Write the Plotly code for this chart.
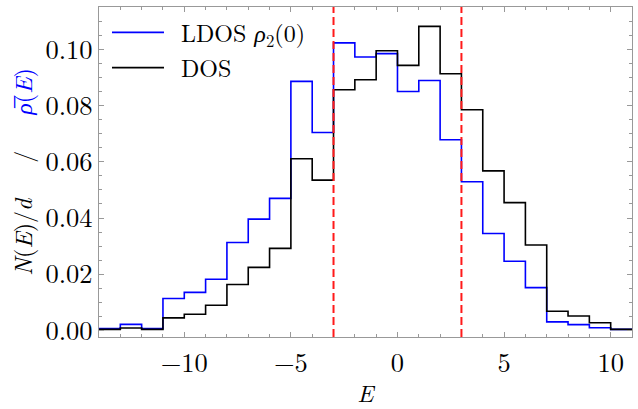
import plotly.graph_objects as go

# Bin edges (unit-width bins from -14 to 11)
bin_edges = list(range(-14, 12))

# LDOS rho_2(0) histogram values (per bin)
ldos_vals = [0.0006, 0.0021, 0.0006, 0.0113, 0.0135, 0.0182, 0.0313, 0.0396, 0.0470,
             0.0887, 0.0705, 0.1024, 0.0974, 0.0986, 0.0851, 0.0890, 0.0679, 0.0529,
             0.0345, 0.0246, 0.0152, 0.0030, 0.0020, 0.0009, 0.0003]

# DOS histogram values (per bin)
dos_vals = [0.0003, 0.0008, 0.0003, 0.0044, 0.0057, 0.0089, 0.0163, 0.0224, 0.0292,
            0.0611, 0.0535, 0.0857, 0.0893, 0.0996, 0.0944, 0.1083, 0.0914, 0.0786,
            0.0568, 0.0455, 0.0304, 0.0068, 0.0051, 0.0027, 0.0003]

# Vertical reference lines
ref_lines = [-3, 3]

x_ticks = [-10, -5, 0, 5, 10]
y_ticks = [0.0, 0.02, 0.04, 0.06, 0.08, 0.10]

FONT = "Latin Modern Roman"
NB = "\u00a0"

fig = go.Figure()

def step_trace(vals, color, name):
    xs = bin_edges
    ys = list(vals) + [vals[-1]]
    return go.Scatter(x=xs, y=ys, mode="lines", line=dict(color=color, width=1.6, shape="hv"),
                      name=name, legendgroup=name)

fig.add_trace(step_trace(ldos_vals, "#0000ff", NB + "LDOS <i>ρ</i><sub>2</sub>(0)"))
fig.add_trace(step_trace(dos_vals, "#000000", NB + "DOS"))

for xv in ref_lines:
    fig.add_vline(x=xv, line=dict(color="#ff1a1a", width=2, dash="8px,4px"))

axis_common = dict(
    showline=True, linecolor="#999999", linewidth=1.2, mirror="allticks",
    ticks="inside", tickcolor="#999999", ticklen=5, tickwidth=1,
    showgrid=False, zeroline=False, automargin=False,
    tickfont=dict(family=FONT, size=26.5, color="black"),
)

fig.update_xaxes(
    range=[-14, 11], tickvals=x_ticks, ticklabelstandoff=2,
    minor=dict(ticks="inside", dtick=1, ticklen=3, tickcolor="#999999", showgrid=False),
    title=dict(text="<i>E</i>", font=dict(family=FONT, size=24, color="black"), standoff=31),
    **axis_common,
)
ytitle = ("<i>N</i>(<i>E</i>)/<i>d</i>" + NB * 3 + "/" + NB * 3 +
          "<span style='color:#0000ff'><i>ρ\u0305</i>(<i>E</i>)</span>")
fig.update_yaxes(
    range=[-0.0024, 0.1152], tickvals=y_ticks, tickformat=".2f",
    minor=dict(ticks="inside", dtick=0.005, tick0=0, ticklen=3, tickcolor="#999999", showgrid=False),
    title=dict(text=ytitle, font=dict(family=FONT, size=24, color="black"), standoff=6),
    **axis_common,
)

fig.update_layout(
    width=638, height=409,
    margin=dict(l=99, r=6, t=7, b=72),
    paper_bgcolor="white", plot_bgcolor="white",
    showlegend=True,
    legend=dict(x=0.015, y=0.99, xanchor="left", yanchor="top", bgcolor="rgba(0,0,0,0)",
                font=dict(family=FONT, size=24, color="black"), itemwidth=52,
                tracegroupgap=1, traceorder="grouped"),
)

fig.write_html("out.html", config={"displayModeBar": False},
               post_script="document.body.style.margin='0';")
